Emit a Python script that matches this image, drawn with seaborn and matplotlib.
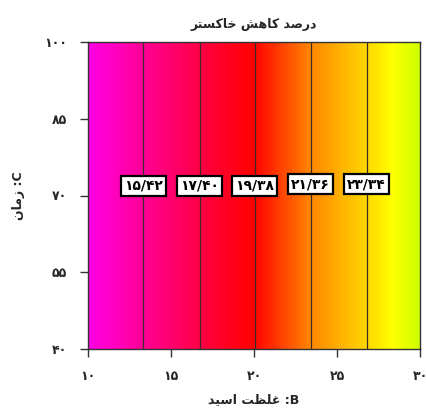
import numpy as np
import matplotlib
matplotlib.use("Agg")
import matplotlib.pyplot as plt
from matplotlib.colors import LinearSegmentedColormap
import seaborn as sns

# ---- data ----
b_range = [10, 30]            # B: acid concentration
c_range = [40, 100]           # C: time
contour_levels = [15.42, 17.40, 19.38, 21.36, 23.34]
contour_B = [13.34, 16.72, 20.05, 23.41, 26.78]   # where each level crosses B
edge_values = [13.45, 25.24]  # response at B = 10 and B = 30
label_C = [71.9, 71.9, 71.9, 72.2, 72.2]
x_ticks = [10, 15, 20, 25, 30]
y_ticks = [40, 55, 70, 85, 100]

# Persian text (logical), and shaped visual forms for rendering
title_text = "درصد کاهش خاکستر"
xlabel_text = "B: غلظت اسید"
ylabel_text = "C: زمان"

title_vis = ("\uFEAE\uFE98\uFEB4\uFB90\uFE8E\uFEA7" + " " +
             "\uFEB6\uFEEB\uFE8E\uFB90" + " " +
             "\uFEAA\uFEBB\uFEAD\uFEA9")
xlabel_vis = ("\uFEAA\uFBFF\uFEB3\uFE8D" + " " +
              "\uFE96\uFEC8\uFEE0\uFECF" + " :B")
ylabel_vis = "\uFEE5\uFE8E\uFEE3\uFEAF" + " :C"

FA_DIGITS = str.maketrans("0123456789", "۰۱۲۳۴۵۶۷۸۹")


def fa(s):
    return str(s).translate(FA_DIGITS)


sns.set_theme(style="ticks")
plt.rcParams['font.family'] = ['DejaVu Sans']

fig = plt.figure(figsize=(4.27, 4.08), dpi=100)
ax = fig.add_axes([88 / 427, 1 - 349 / 408, 332 / 427, 307 / 408])

# response field (linear in B, constant in C)
B = np.linspace(b_range[0], b_range[1], 600)
C = np.linspace(c_range[0], c_range[1], 50)
BB, CC = np.meshgrid(B, C)
xp = [b_range[0]] + contour_B + [b_range[1]]
fp = [edge_values[0]] + contour_levels + [edge_values[1]]
Z = np.interp(BB, xp, fp)

cmap = LinearSegmentedColormap.from_list(
    "ash",
    [(0.0, (1.0, 0.0, 0.9)),
     (0.17, (1.0, 0.0, 0.58)),
     (0.34, (1.0, 0.0, 0.26)),
     (0.5, (1.0, 0.0, 0.0)),
     (0.67, (1.0, 0.52, 0.0)),
     (0.84, (1.0, 0.84, 0.0)),
     (0.92, (1.0, 1.0, 0.0)),
     (1.0, (0.8, 1.0, 0.0))])

ax.pcolormesh(BB, CC, Z, cmap=cmap, vmin=edge_values[0], vmax=edge_values[1],
              shading="auto", rasterized=True)
ax.contour(BB, CC, Z, levels=contour_levels, colors="#3b2b2b", linewidths=0.9)

for lvl, bx, cy in zip(contour_levels, contour_B, label_C):
    ax.text(bx, cy, fa(f"{lvl:.2f}".replace(".", "/")), ha="center", va="center",
            fontsize=10, fontweight="bold", color="black",
            bbox=dict(boxstyle="square,pad=0.22", facecolor="white",
                      edgecolor="black", linewidth=1.6))

ax.set_xlim(b_range)
ax.set_ylim(c_range)
ax.set_xticks(x_ticks)
ax.set_xticklabels([fa(t) for t in x_ticks], fontweight="bold", fontsize=9)
ax.set_yticks(y_ticks)
ax.set_yticklabels([fa(t) for t in y_ticks], fontweight="bold", fontsize=9)
ax.tick_params(direction="out", length=6, width=1, color="#333333", pad=9)
for sp in ax.spines.values():
    sp.set_visible(True)
    sp.set_linewidth(1)
    sp.set_color("#333333")

ax.set_title(title_vis, fontsize=9, fontweight="bold", pad=10)
ax.set_xlabel(xlabel_vis, fontsize=9, fontweight="bold", labelpad=7)
ax.set_ylabel(ylabel_vis, fontsize=9, fontweight="bold", labelpad=14)

fig.savefig("out.png", dpi=100)
